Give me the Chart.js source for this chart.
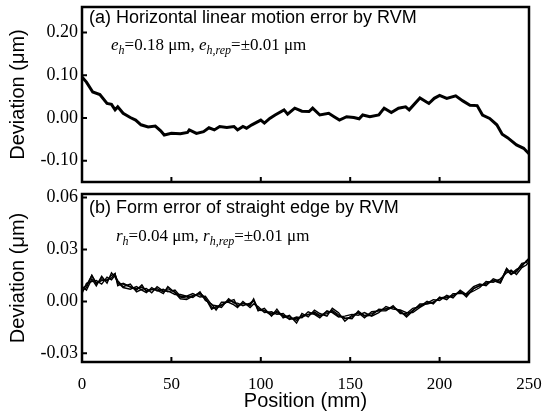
<!DOCTYPE html>
<html><head><meta charset="utf-8">
<script src="https://cdn.jsdelivr.net/npm/chart.js@4.4.1/dist/chart.umd.min.js"></script>
<style>
html,body{margin:0;padding:0;background:#fff;}
#wrap{position:relative;width:542px;height:413px;overflow:hidden;}
#c1{position:absolute;left:0;top:0;}
#c2{position:absolute;left:0;top:186px;}
</style></head><body>
<div id="wrap">
<canvas id="c2" width="542" height="227"></canvas>
<canvas id="c1" width="542" height="190"></canvas>
</div>
<script>
// ---- data (position in mm, deviation in µm) ----
const posA = [0,2.5,6,10,14,16.5,18.5,20,23,27,30,33,37,41,44,46,50,55,59,60,64,68,71,74,77,81,85,87,90,92,95,100,102,105,108,113,115,119,123,127,129,133,138,141,144,148,152,155,157,161,166,169,173,177,181,183,189,194,197,200,204,209,213,217,221,224,228,232,235,238,243,247,250];
const devA = [0.096,0.084,0.061,0.055,0.034,0.032,0.019,0.026,0.011,0.001,-0.005,-0.016,-0.021,-0.019,-0.030,-0.040,-0.036,-0.037,-0.034,-0.028,-0.036,-0.032,-0.023,-0.028,-0.020,-0.022,-0.020,-0.028,-0.020,-0.024,-0.016,-0.005,-0.012,-0.001,0.007,0.019,0.009,0.023,0.016,0.015,0.023,0.007,0.011,0.003,-0.005,0.003,0.001,-0.002,0.007,0.003,0.007,0.023,0.013,0.023,0.026,0.019,0.047,0.034,0.046,0.053,0.046,0.052,0.040,0.030,0.029,0.007,-0.001,-0.016,-0.038,-0.046,-0.063,-0.071,-0.084];

const posB = [0,2.5,5.5,8,11,14,16.5,18.5,20,23,27,30.5,33.5,36,39,42,45.5,48,52,55,58.5,62,66,69,72.5,75,78,82,85,87,90,94,96,98.5,102,106,109,112.5,116,120,123,126.5,130,133,137,140,143.5,147,151,154.5,158,162,166,170,174,178,181.5,185,189,193,196.5,200,204,207.5,211.5,215,219,222.5,226,230,234,237.5,240,243,246,248.5,250];
const devB1 = [0.0073,0.0092,0.015,0.010,0.013,0.012,0.015,0.016,0.010,0.010,0.0083,0.0073,0.0083,0.0063,0.0069,0.0073,0.0054,0.0073,0.0054,0.0025,0.0019,0.0035,0.0039,0.0016,-0.0033,-0.0039,-0.0023,0.0006,-0.0004,-0.0023,-0.0013,-0.0023,0.0006,-0.0042,-0.0052,-0.0071,-0.0058,-0.0081,-0.0090,-0.011,-0.0081,-0.0077,-0.0062,-0.0081,-0.0071,-0.0052,-0.0077,-0.010,-0.0090,-0.0065,-0.0081,-0.0071,-0.0052,-0.0042,-0.0033,-0.0062,-0.0081,-0.0052,-0.0023,-0.001,-0.0004,0.0016,0.0021,0.0035,0.0054,0.0035,0.0073,0.0092,0.010,0.012,0.011,0.019,0.016,0.017,0.021,0.023,0.025];
const devB2 = [0.0045,0.0105,0.0115,0.0120,0.0100,0.0140,0.0125,0.0150,0.0120,0.0085,0.0100,0.0055,0.0070,0.0075,0.0050,0.0085,0.0060,0.0060,0.0040,0.0040,0.0030,0.0022,0.0055,0.0005,-0.0015,-0.0050,-0.0005,-0.0005,-0.0020,-0.0035,0.0000,-0.0035,-0.0015,-0.0030,-0.0065,-0.0060,-0.0075,-0.0070,-0.0105,-0.0090,-0.0095,-0.0060,-0.0075,-0.0095,-0.0055,-0.0065,-0.0090,-0.0085,-0.0075,-0.0080,-0.0065,-0.0085,-0.0065,-0.0030,-0.0045,-0.0050,-0.0065,-0.0065,-0.0035,-0.0010,0.0010,0.0005,0.0035,0.0020,0.0065,0.0040,0.0060,0.0080,0.0115,0.0110,0.0130,0.0165,0.0180,0.0155,0.0195,0.0210,0.0230];
const devB3 = [0.0085,0.0065,0.0130,0.0090,0.0145,0.0105,0.0165,0.0140,0.0110,0.0080,0.0070,0.0085,0.0065,0.0050,0.0080,0.0060,0.0070,0.0055,0.0065,0.0030,0.0030,0.0045,0.0025,0.0030,-0.0020,-0.0025,-0.0035,0.0015,-0.0010,-0.0010,-0.0025,-0.0010,0.0005,-0.0055,-0.0040,-0.0085,-0.0045,-0.0095,-0.0080,-0.0125,-0.0070,-0.0090,-0.0050,-0.0070,-0.0085,-0.0040,-0.0065,-0.0115,-0.0080,-0.0065,-0.0095,-0.0060,-0.0055,-0.0055,-0.0025,-0.0070,-0.0070,-0.0040,-0.0030,0.0000,-0.0015,0.0025,0.0010,0.0045,0.0045,0.0045,0.0085,0.0100,0.0090,0.0130,0.0115,0.0190,0.0160,0.0185,0.0200,0.0235,0.0245];
const devB4 = [0.0060,0.0080,0.0150,0.0105,0.0120,0.0125,0.0135,0.0160,0.0090,0.0105,0.0085,0.0065,0.0095,0.0055,0.0070,0.0065,0.0045,0.0085,0.0050,0.0015,0.0010,0.0030,0.0050,0.0020,-0.0045,-0.0030,-0.0020,0.0000,0.0010,-0.0030,-0.0010,-0.0020,0.0015,-0.0050,-0.0055,-0.0080,-0.0065,-0.0085,-0.0100,-0.0100,-0.0090,-0.0075,-0.0070,-0.0085,-0.0060,-0.0060,-0.0085,-0.0095,-0.0100,-0.0055,-0.0085,-0.0080,-0.0045,-0.0050,-0.0035,-0.0055,-0.0090,-0.0055,-0.0015,-0.0015,-0.0005,0.0020,0.0025,0.0030,0.0060,0.0025,0.0075,0.0090,0.0105,0.0120,0.0105,0.0180,0.0155,0.0175,0.0220,0.0225,0.0250];

const xTicks = [0,50,100,150,200,250];
const yTicksA = [-0.10,0.00,0.10,0.20];
const yTicksB = [-0.03,0.00,0.03,0.06];

const yTitle = 'Deviation (μm)';
const xTitle = 'Position (mm)';
const titleA = '(a) Horizontal linear motion error by RVM';
const titleB = '(b) Form error of straight edge by RVM';
const noteA = [{t:'e',it:1},{t:'h',it:1,sub:1},{t:'=0.18 μm, '},{t:'e',it:1},{t:'h,rep',it:1,sub:1},{t:'=±0.01 μm'}];
const noteB = [{t:'r',it:1},{t:'h',it:1,sub:1},{t:'=0.04 μm, '},{t:'r',it:1},{t:'h,rep',it:1,sub:1},{t:'=±0.01 μm'}];

function pts(xs, ys){ return xs.map((x,i)=>({x:x, y:ys[i]})); }

function drawRich(ctx, x, y, segs, size){
  ctx.textBaseline = 'middle';
  ctx.textAlign = 'left';
  for (const s of segs){
    const fs = s.sub ? Math.round(size*0.72) : size;
    ctx.font = (s.it ? 'italic ' : '') + fs + 'px "Liberation Serif"';
    const dy = s.sub ? size*0.28 : 0;
    ctx.fillText(s.t, x, y + dy);
    x += ctx.measureText(s.t).width;
  }
}

function framePlugin(cfg){
  return {
    id:'frame_'+cfg.name,
    afterDraw(chart){
      const ctx = chart.ctx, a = chart.chartArea;
      const xs = chart.scales.x, ys = chart.scales.y;
      ctx.save();
      ctx.strokeStyle = '#000';
      ctx.fillStyle = '#000';
      ctx.lineWidth = 2.5;
      ctx.strokeRect(a.left, a.top, a.right - a.left, a.bottom - a.top);
      ctx.lineWidth = 2;
      ctx.beginPath();
      cfg.yt.forEach(v => { const p = ys.getPixelForValue(v); ctx.moveTo(a.left, p); ctx.lineTo(a.left + 5, p); });
      xTicks.slice(1, -1).forEach(v => { const p = xs.getPixelForValue(v); ctx.moveTo(p, a.bottom); ctx.lineTo(p, a.bottom - 5); });
      ctx.stroke();
      ctx.font = '18px "Liberation Sans"';
      ctx.textBaseline = 'middle';
      ctx.textAlign = 'left';
      ctx.fillText(cfg.title, a.left + 7, a.top + cfg.ty);
      drawRich(ctx, a.left + cfg.nx, a.top + cfg.ny, cfg.note, 17);
      ctx.restore();
    }
  };
}

function yScale(min, max, ticks){
  return {
    min:min, max:max,
    afterFit(s){ s.width = 82; s.paddingTop = 0; s.paddingBottom = 0; },
    afterBuildTicks(s){ s.ticks = ticks.map(v => ({value:v})); },
    grid:{display:false, drawTicks:false},
    border:{display:false},
    ticks:{padding:4, color:'#000', font:{family:'Liberation Serif', size:18}, callback:v => Number(v).toFixed(2)},
    title:{display:true, text:yTitle, color:'#000', font:{family:'Liberation Sans', size:20}, padding:{top:6, bottom:0}}
  };
}

new Chart(document.getElementById('c1'), {
  type:'line',
  data:{datasets:[{data:pts(posA, devA), borderColor:'#000', borderWidth:3, pointRadius:0, tension:0, fill:false}]},
  options:{
    responsive:false, animation:false, devicePixelRatio:1,
    layout:{padding:{left:0, right:13, top:7, bottom:8}},
    plugins:{legend:{display:false}, tooltip:{enabled:false}},
    scales:{
      x:{type:'linear', min:0, max:250, display:false},
      y:yScale(-0.15, 0.26, yTicksA)
    }
  },
  plugins:[framePlugin({name:'a', yt:yTicksA, title:titleA, ty:11, note:noteA, nx:29, ny:39})]
});

const lineB = ys => ({data:pts(posB, ys), borderColor:'#000', borderWidth:1.4, pointRadius:0, tension:0, fill:false});
new Chart(document.getElementById('c2'), {
  type:'line',
  data:{datasets:[lineB(devB1), lineB(devB2), lineB(devB3), lineB(devB4)]},
  options:{
    responsive:false, animation:false, devicePixelRatio:1,
    layout:{padding:{left:0, right:13, top:8, bottom:0}},
    plugins:{legend:{display:false}, tooltip:{enabled:false}},
    scales:{
      x:{type:'linear', min:0, max:250,
         afterFit(s){ s.height = 51; s.paddingLeft = 0; s.paddingRight = 0; },
         afterBuildTicks(s){ s.ticks = xTicks.map(v => ({value:v})); },
         grid:{display:false, drawTicks:false}, border:{display:false},
         ticks:{padding:12, color:'#000', maxRotation:0, font:{family:'Liberation Serif', size:17}, callback:v => String(v)},
         title:{display:true, text:xTitle, color:'#000', font:{family:'Liberation Sans', size:20}, padding:{top:0, bottom:0}}
      },
      y:yScale(-0.035, 0.062, yTicksB)
    }
  },
  plugins:[framePlugin({name:'b', yt:yTicksB, title:titleB, ty:14, note:noteB, nx:34, ny:43})]
});
</script>
</body></html>
